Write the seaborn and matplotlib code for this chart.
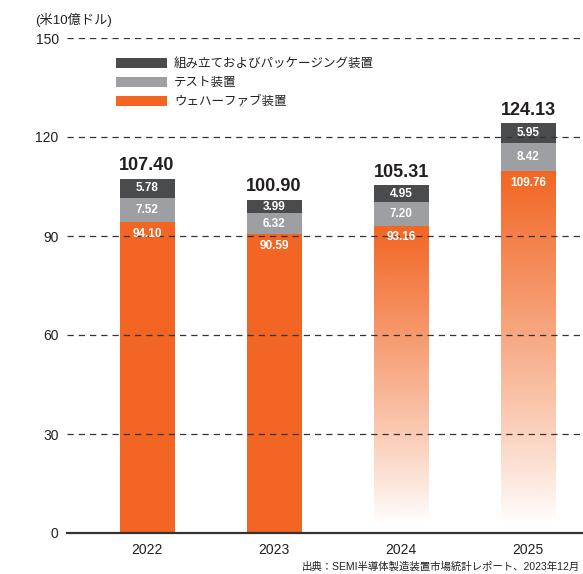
import numpy as np
import matplotlib
matplotlib.use('Agg')
import matplotlib.pyplot as plt
import seaborn as sns
from matplotlib.patches import Patch
from matplotlib.colors import to_rgba

# ---- data ----
years = ['2022', '2023', '2024', '2025']
wafer = [94.10, 90.59, 93.16, 109.76]
test = [7.52, 6.32, 7.20, 8.42]
assembly = [5.78, 3.99, 4.95, 5.95]
totals = [107.40, 100.90, 105.31, 124.13]
forecast = [False, False, True, True]
series_labels = ['組み立ておよびパッケージング装置', 'テスト装置', 'ウェハーファブ装置']
y_ticks = [0, 30, 60, 90, 120, 150]
unit_label = '(米10億ドル)'
source_note = '出典：SEMI半導体製造装置市場統計レポート、2023年12月'

# ---- style ----
ORANGE = '#f26522'
GRAY = '#9d9fa2'
DARK = '#4a4b4d'
TEXT = '#231f20'
BAR_W = 0.433

sns.set_theme(style='white')
plt.rcParams['font.family'] = ['Liberation Sans', 'Noto Sans CJK JP']

fig = plt.figure(figsize=(5.83, 5.74), dpi=100)
ax = fig.add_axes([67 / 583, 41 / 574, 516 / 583, 495 / 574])

wafer_a = np.array(wafer)
test_a = np.array(test)
asm_a = np.array(assembly)

sns.barplot(x=years, y=wafer, color=ORANGE, width=BAR_W, saturation=1,
            errorbar=None, ax=ax)
n0 = len(ax.patches)
sns.barplot(x=years, y=test, color=GRAY, width=BAR_W, saturation=1,
            errorbar=None, ax=ax)
n1 = len(ax.patches)
sns.barplot(x=years, y=assembly, color=DARK, width=BAR_W, saturation=1,
            errorbar=None, ax=ax)

wafer_p = ax.patches[:n0]
test_p = ax.patches[n0:n1]
asm_p = ax.patches[n1:]
for i, p in enumerate(test_p):
    p.set_y(wafer_a[i])
for i, p in enumerate(asm_p):
    p.set_y(wafer_a[i] + test_a[i])
for p in ax.patches:
    p.set_edgecolor('none')
    p.set_linewidth(0)

# gradient for forecast years
rgba = to_rgba(ORANGE)
for i, p in enumerate(wafer_p):
    if not forecast[i]:
        continue
    x0, w, h = p.get_x(), p.get_width(), p.get_height()
    n = 400
    yy = np.linspace(h, 0, n)  # top to bottom
    alpha = np.clip((yy - 3) / (h - 3), 0, 1) ** 0.9
    grad = np.zeros((n, 1, 4))
    grad[:, 0, 0] = rgba[0]
    grad[:, 0, 1] = rgba[1]
    grad[:, 0, 2] = rgba[2]
    grad[:, 0, 3] = alpha
    im = ax.imshow(grad, extent=[x0, x0 + w, 0, h], aspect='auto',
                   origin='upper', interpolation='bilinear', zorder=p.get_zorder())
    im.set_clip_path(p)
    p.set_facecolor('none')

# labels
for i in range(len(years)):
    ax.text(i, totals[i] + 2.6, f'{totals[i]:.2f}', ha='center', va='baseline',
            fontsize=13, fontweight='bold', color=TEXT, zorder=5)
    ax.text(i, wafer_a[i] + test_a[i] + asm_a[i] / 2, f'{assembly[i]:.2f}',
            ha='center', va='center', fontsize=8.5, fontweight='bold', color='white', zorder=5)
    ax.text(i, wafer_a[i] + test_a[i] / 2, f'{test[i]:.2f}',
            ha='center', va='center', fontsize=8.5, fontweight='bold', color='white', zorder=5)
    ax.text(i, wafer_a[i] - 3.6, f'{wafer[i]:.2f}',
            ha='center', va='center', fontsize=8.5, fontweight='bold', color='white', zorder=5)

# axes styling
ax.set_xlim(-0.630, 3.433)
ax.set_ylim(0, 150)
ax.set_yticks(y_ticks)
ax.yaxis.grid(True, linestyle=(0, (5, 4)), color='#333333', linewidth=0.9)
ax.xaxis.grid(False)
ax.set_axisbelow(False)
for s in ['top', 'right', 'left']:
    ax.spines[s].set_visible(False)
ax.spines['bottom'].set_color('#333333')
ax.spines['bottom'].set_linewidth(1.6)
ax.spines['bottom'].set_zorder(6)
ax.tick_params(axis='y', length=0, labelsize=10, colors=TEXT, pad=6)
ax.tick_params(axis='x', length=0, labelsize=10, colors=TEXT, pad=7)
ax.set_xlabel('')
ax.set_ylabel('')

# legend
handles = [Patch(facecolor=c, edgecolor='none') for c in [DARK, GRAY, ORANGE]]
fig.legend(handles, series_labels, loc='upper left',
           bbox_to_anchor=(116 / 583, 1 - 58 / 574), frameon=False,
           fontsize=9, handlelength=4.1, handleheight=0.8, handletextpad=0.55,
           labelspacing=0.55, borderpad=0, borderaxespad=0, labelcolor=TEXT)

fig.text(35 / 583, 1 - 20 / 574, unit_label, fontsize=9.5, va='center', ha='left', color=TEXT)
fig.text(580 / 583, 1 - 567 / 574, source_note, fontsize=7.5, va='center', ha='right', color=TEXT)

fig.savefig('out.png', dpi=100)
